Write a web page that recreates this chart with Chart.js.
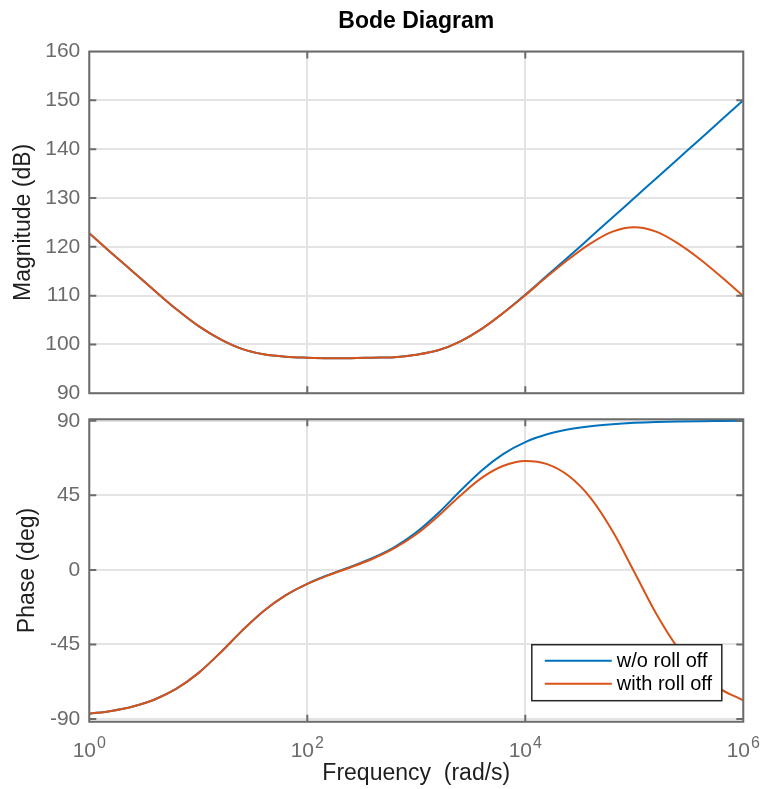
<!DOCTYPE html>
<html>
<head>
<meta charset="utf-8">
<title>Bode Diagram</title>
<script src="https://cdn.jsdelivr.net/npm/chart.js@4.4.0/dist/chart.umd.min.js"></script>
<style>
  html, body { margin: 0; padding: 0; background: #fff; }
  #wrap { position: relative; width: 761px; height: 789px; }
  #wrap canvas { position: absolute; left: 0; top: 0; }
</style>
</head>
<body>
<div id="wrap">
  <canvas id="magChart" width="761" height="789"></canvas>
  <canvas id="phaseChart" width="761" height="789"></canvas>
</div>
<script>
// frequency grid in rad/s, five points per decade
const freq = [1, 1.585, 2.512, 3.981, 6.31, 10, 15.85, 25.12, 39.81, 63.1,
  100, 158.5, 251.2, 398.1, 631, 1000, 1585, 2512, 3981, 6310,
  10000, 15850, 25120, 39810, 63100, 100000, 158500, 251200, 398100, 631000, 1000000];

// magnitude in dB
const magNoRolloff = [122.8, 118.8, 114.9, 111.0, 107.2, 103.8, 101.1, 99.1, 98.0, 97.5,
  97.3, 97.2, 97.2, 97.3, 97.4, 97.9, 98.8, 100.6, 103.2, 106.5,
  110.2, 114.1, 118.0, 122.0, 126.0, 130.0, 134.0, 138.0, 142.0, 146.0, 150.0];
const magRolloff = [122.8, 118.8, 114.9, 111.0, 107.2, 103.8, 101.1, 99.1, 98.0, 97.5,
  97.3, 97.2, 97.2, 97.3, 97.4, 97.9, 98.8, 100.6, 103.2, 106.5,
  110.1, 113.9, 117.5, 120.7, 123.1, 124.0, 123.1, 120.7, 117.5, 113.8, 109.9];

// phase in degrees
const phaseNoRolloff = [-86.8, -85.1, -82.4, -78.2, -71.7, -62.3, -50.1, -36.8, -24.8, -15.4,
  -8.4, -2.9, 1.9, 7.2, 13.8, 22.7, 34.2, 47.4, 60.0, 70.0,
  77.1, 81.8, 84.8, 86.7, 87.9, 88.7, 89.2, 89.5, 89.7, 89.8, 89.9];
const phaseRolloff = [-86.8, -85.1, -82.4, -78.2, -71.7, -62.3, -50.1, -36.8, -24.8, -15.4,
  -8.5, -3.1, 1.6, 6.7, 13.1, 21.5, 32.4, 44.6, 55.5, 62.8,
  65.7, 63.8, 56.6, 43.3, 23.4, -1.3, -26.3, -47.1, -62.1, -72.2, -78.7];

const magTicks = [90, 100, 110, 120, 130, 140, 150, 160];
const phaseTicks = [-90, -45, 0, 45, 90];
const freqTicks = [1, 100, 10000, 1000000];
const seriesLabels = ['w/o roll off', 'with roll off'];
const seriesColors = ['#0072BD', '#D95319'];

const fontFamily = '"Liberation Sans", Arial, Helvetica, sans-serif';
Chart.defaults.font.family = fontFamily;

const frameColor = '#6b6b6b';
const tickColor = '#6b6b6b';
const gridColor = '#e4e4e4';
const labelColor = '#1e1e1e';

// axes box edges in page pixels
const plotLeft = 89.3, plotRight = 743.3;
const magTop = 51.5, magBottom = 393.3;
const phaseTop = 419.3, phaseBottom = 721.7;
const pageW = 761, pageH = 789;

function pairs(xs, ys) {
  return xs.map((x, i) => ({ x: x, y: ys[i] }));
}

function makeDatasets(blue, red) {
  return [
    { label: seriesLabels[0], data: pairs(freq, blue), borderColor: seriesColors[0], order: 1 },
    { label: seriesLabels[1], data: pairs(freq, red), borderColor: seriesColors[1], order: 0 }
  ].map(ds => Object.assign(ds, {
    borderWidth: 2, pointRadius: 0, fill: false, cubicInterpolationMode: 'monotone'
  }));
}

// box around the plot area with inward tick marks on every side
const axesBox = {
  id: 'axesBox',
  afterDraw(chart) {
    const { ctx, chartArea: a, scales } = chart;
    const len = 7;
    ctx.save();
    ctx.strokeStyle = frameColor;
    ctx.lineWidth = 2;
    ctx.beginPath();
    scales.y.ticks.forEach(t => {
      const y = scales.y.getPixelForValue(t.value);
      ctx.moveTo(a.left, y); ctx.lineTo(a.left + len, y);
      ctx.moveTo(a.right, y); ctx.lineTo(a.right - len, y);
    });
    scales.x.ticks.forEach(t => {
      const x = scales.x.getPixelForValue(t.value);
      ctx.moveTo(x, a.top); ctx.lineTo(x, a.top + len);
      ctx.moveTo(x, a.bottom); ctx.lineTo(x, a.bottom - len);
    });
    ctx.rect(a.left, a.top, a.right - a.left, a.bottom - a.top);
    ctx.stroke();
    ctx.restore();
  }
};

// 10^n labels under the frequency axis
const decadeLabels = {
  id: 'decadeLabels',
  afterDraw(chart) {
    const { ctx, chartArea: a, scales: { x } } = chart;
    const baseFont = '21px ' + fontFamily;
    const expFont = '16px ' + fontFamily;
    ctx.save();
    ctx.fillStyle = tickColor;
    ctx.textBaseline = 'alphabetic';
    ctx.textAlign = 'left';
    x.ticks.forEach(t => {
      const exp = String(Math.round(Math.log10(t.value)));
      ctx.font = baseFont;
      const wb = ctx.measureText('10').width;
      ctx.font = expFont;
      const we = ctx.measureText(exp).width;
      const left = x.getPixelForValue(t.value) - (wb + we + 1) / 2;
      ctx.font = baseFont;
      ctx.fillText('10', left, a.bottom + 35);
      ctx.font = expFont;
      ctx.fillText(exp, left + wb + 1, a.bottom + 26.6);
    });
    ctx.restore();
  }
};

// boxed legend in the lower right corner of the phase plot
const boxLegend = {
  id: 'boxLegend',
  afterDraw(chart) {
    const { ctx, chartArea: a } = chart;
    const w = 190, h = 56;
    const x0 = a.right - 21.5 - w, y0 = a.bottom - 21 - h;
    ctx.save();
    ctx.fillStyle = '#fff';
    ctx.fillRect(x0, y0, w, h);
    ctx.strokeStyle = '#262626';
    ctx.lineWidth = 1.5;
    ctx.strokeRect(x0, y0, w, h);
    ctx.font = '20px ' + fontFamily;
    ctx.textBaseline = 'middle';
    ctx.textAlign = 'left';
    chart.data.datasets.forEach((ds, i) => {
      const y = y0 + 16 + i * 23;
      ctx.strokeStyle = ds.borderColor;
      ctx.lineWidth = 2;
      ctx.beginPath();
      ctx.moveTo(x0 + 13, y);
      ctx.lineTo(x0 + 80, y);
      ctx.stroke();
      ctx.fillStyle = '#000';
      ctx.fillText(ds.label, x0 + 85, y + 1);
    });
    ctx.restore();
  }
};

function freqAxis(height, title) {
  return {
    type: 'logarithmic',
    min: 1,
    max: 1000000,
    afterBuildTicks: s => { s.ticks = freqTicks.map(v => ({ value: v })); },
    afterFit: s => { s.height = height; },
    grid: { color: gridColor, lineWidth: 2, drawTicks: false },
    border: { display: false },
    ticks: { display: false },
    title: title
  };
}

function valueAxis(min, max, ticks, text, titlePad) {
  return {
    min: min,
    max: max,
    afterBuildTicks: s => { s.ticks = ticks.map(v => ({ value: v })); },
    afterFit: s => { s.width = plotLeft; },
    grid: { color: gridColor, lineWidth: 2, drawTicks: false },
    border: { display: false },
    ticks: { color: tickColor, font: { size: 21 }, padding: 9 },
    title: { display: true, text: text, color: labelColor, font: { size: 23 }, padding: { top: titlePad, bottom: 0 } }
  };
}

const common = {
  responsive: false,
  animation: false,
  events: []
};

new Chart(document.getElementById('magChart').getContext('2d'), {
  type: 'line',
  data: { datasets: makeDatasets(magNoRolloff, magRolloff) },
  options: Object.assign({}, common, {
    layout: { padding: { top: 0, left: 0, right: pageW - plotRight, bottom: pageH - magBottom } },
    scales: {
      x: freqAxis(0, { display: false }),
      y: valueAxis(90, 160, magTicks, 'Magnitude (dB)', 9.7)
    },
    plugins: {
      legend: { display: false },
      tooltip: { enabled: false },
      title: {
        display: true,
        fullSize: false,
        text: 'Bode Diagram',
        color: '#000',
        font: { size: 23, weight: 'bold' },
        padding: { top: 8, bottom: magTop - 8 - 23 * 1.2 }
      }
    }
  }),
  plugins: [axesBox]
});

new Chart(document.getElementById('phaseChart').getContext('2d'), {
  type: 'line',
  data: { datasets: makeDatasets(phaseNoRolloff, phaseRolloff) },
  options: Object.assign({}, common, {
    layout: { padding: { top: phaseTop, left: 0, right: pageW - plotRight, bottom: 0 } },
    scales: {
      x: freqAxis(pageH - phaseBottom, {
        display: true,
        text: 'Frequency  (rad/s)',
        color: labelColor,
        font: { size: 23 },
        padding: { top: 0, bottom: 1.7 }
      }),
      y: valueAxis(-91.6, 90.85, phaseTicks, 'Phase (deg)', 14.2)
    },
    plugins: {
      legend: { display: false },
      tooltip: { enabled: false },
      title: { display: false }
    }
  }),
  plugins: [axesBox, decadeLabels, boxLegend]
});
</script>
</body>
</html>
